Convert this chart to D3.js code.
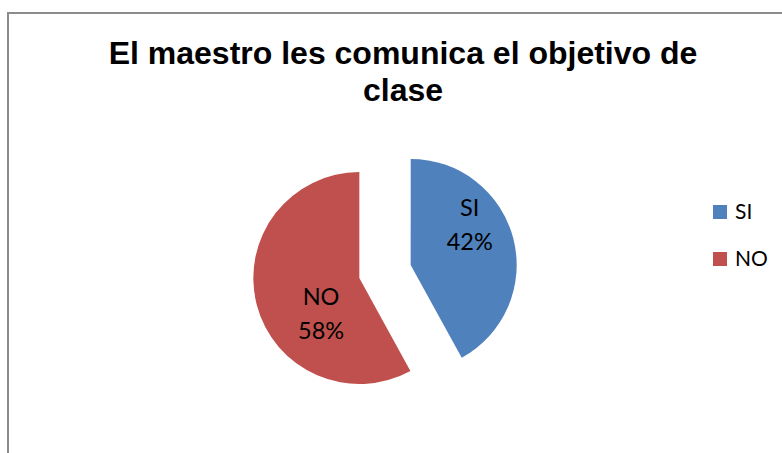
<!DOCTYPE html>
<html>
<head>
<meta charset="utf-8">
<script src="https://cdn.jsdelivr.net/npm/d3@7"></script>
<style>
  html, body { margin: 0; padding: 0; background: #fff; }
  svg { display: block; }
</style>
</head>
<body>
<svg id="chart"></svg>
<script>
const width = 782, height = 453;
const title_lines = ["El maestro les comunica el objetivo de", "clase"];
const categories = ["SI", "NO"];
const values = [42, 58];
const colors = ["#4F81BD", "#C0504D"];
const label_radius = [72, 52];   // how far out each label sits from its slice's apex
const label_font = "Lato, 'Open Sans', sans-serif";

const svg = d3.select("#chart")
  .attr("width", width)
  .attr("height", height);

// chart frame (runs off the right and bottom edge like the original)
svg.append("rect")
  .attr("x", 8).attr("y", 13)
  .attr("width", width + 20).attr("height", height + 20)
  .attr("fill", "#fff")
  .attr("stroke", "#8c8c8c")
  .attr("stroke-width", 2);

// title
svg.append("text")
  .attr("x", 403)
  .attr("y", 64)
  .attr("text-anchor", "middle")
  .attr("font-family", "'Liberation Sans', Arial, sans-serif")
  .attr("font-weight", "bold")
  .attr("font-size", 32)
  .attr("fill", "#000")
  .selectAll("tspan")
  .data(title_lines)
  .enter()
  .append("tspan")
  .attr("x", 403)
  .attr("dy", (d, i) => i === 0 ? 0 : 37)
  .text(d => d);

////////////////////////////////////
//        Exploded pie            //
////////////////////////////////////
const cx = 385, cy = 271.5, radius = 106, explode = 26.5;

const pie = d3.pie().sort(null).value(d => d.value);
const arc = d3.arc().innerRadius(0).outerRadius(radius);

const slices = pie(categories.map((c, i) => ({ name: c, value: values[i], color: colors[i], lr: label_radius[i] })));

const g = svg.append("g").attr("transform", `translate(${cx},${cy})`);

const sliceG = g.selectAll("g.slice")
  .data(slices)
  .enter()
  .append("g")
  .attr("class", "slice")
  .attr("transform", d => {
    const mid = (d.startAngle + d.endAngle) / 2;
    return `translate(${Math.sin(mid) * explode},${-Math.cos(mid) * explode})`;
  });

sliceG.append("path")
  .attr("d", arc)
  .attr("fill", d => d.data.color);

// labels: category on top, percent below
const total = d3.sum(values);
const lbl = sliceG.append("text")
  .attr("text-anchor", "middle")
  .attr("font-family", label_font)
  .attr("font-size", 23.5)
  .attr("fill", "#000")
  .attr("transform", d => {
    const a = d.startAngle + 0.365 * (d.endAngle - d.startAngle);
    return `translate(${Math.sin(a) * d.data.lr},${-Math.cos(a) * d.data.lr})`;
  });
lbl.append("tspan").attr("x", 0).attr("dy", -8).text(d => d.data.name);
lbl.append("tspan").attr("x", 0).attr("dy", 34).text(d => Math.round(d.data.value / total * 100) + "%");

////////////////////////////////////
//            Legend              //
////////////////////////////////////
const legend = svg.selectAll("g.legend")
  .data(categories)
  .enter()
  .append("g")
  .attr("class", "legend")
  .attr("transform", (d, i) => `translate(713,${205 + i * 47})`);

legend.append("rect")
  .attr("width", 14).attr("height", 14)
  .attr("fill", (d, i) => colors[i]);

legend.append("text")
  .attr("x", 22)
  .attr("y", 14)
  .attr("font-family", label_font)
  .attr("font-size", 21)
  .attr("fill", "#000")
  .text(d => d);
</script>
</body>
</html>
